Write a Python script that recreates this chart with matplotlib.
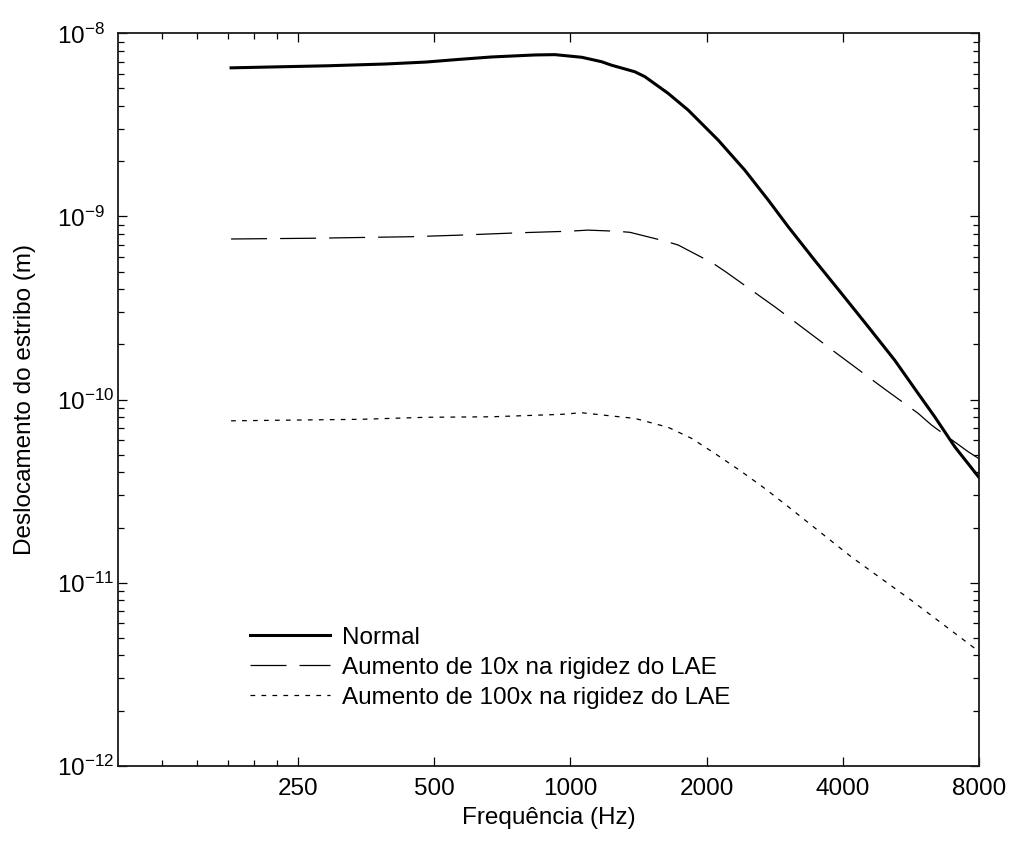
import matplotlib
matplotlib.use('Agg')
import matplotlib.pyplot as plt
from matplotlib.ticker import FixedLocator, NullFormatter, LogLocator, LogFormatterSciNotation, FixedFormatter

FAM = ['Liberation Sans', 'DejaVu Sans']
plt.rcParams['font.family'] = FAM
plt.rcParams['mathtext.fontset'] = 'custom'
plt.rcParams['mathtext.rm'] = 'Liberation Sans'
plt.rcParams['mathtext.it'] = 'Liberation Sans:italic'
plt.rcParams['mathtext.bf'] = 'Liberation Sans:bold'
plt.rcParams['lines.scale_dashes'] = False

# ---- data ----
freq_normal = [178, 290, 390, 480, 565, 670, 835, 925, 1060, 1172, 1233, 1388, 1461,
               1645, 1821, 2122, 2429, 2736, 3029, 3468, 3972, 4550, 5208, 5866,
               6384, 7070, 8000]
disp_normal = [6.48e-9, 6.65e-9, 6.8e-9, 6.97e-9, 7.2e-9, 7.43e-9, 7.62e-9, 7.65e-9,
               7.4e-9, 7.0e-9, 6.7e-9, 6.17e-9, 5.8e-9, 4.7e-9, 3.81e-9, 2.61e-9,
               1.79e-9, 1.23e-9, 8.79e-10, 5.75e-10, 3.8e-10, 2.5e-10, 1.64e-10,
               1.08e-10, 8.05e-11, 5.52e-11, 3.75e-11]

freq_10x = [178, 268, 446, 566, 780, 990, 1094, 1265, 1354, 1617, 1731, 2069, 2213,
            2830, 3029, 3620, 3872, 4627, 4950, 5866, 6277, 7566, 8000]
disp_10x = [7.53e-10, 7.6e-10, 7.75e-10, 7.9e-10, 8.15e-10, 8.3e-10, 8.42e-10,
            8.3e-10, 8.19e-10, 7.34e-10, 6.98e-10, 5.54e-10, 4.95e-10, 3.21e-10,
            2.83e-10, 2.03e-10, 1.79e-10, 1.29e-10, 1.14e-10, 8.41e-11, 7.26e-11,
            5.19e-11, 4.75e-11]

freq_100x = [178, 346, 481, 670, 956, 1059, 1183, 1388, 1645, 1852, 2085, 2389, 2689,
             3029, 3230, 4180, 5670, 8000]
disp_100x = [7.65e-11, 7.8e-11, 8.0e-11, 8.05e-11, 8.3e-11, 8.47e-11, 8.22e-11,
             7.89e-11, 7.05e-11, 6.14e-11, 5.08e-11, 4.04e-11, 3.27e-11, 2.6e-11,
             2.29e-11, 1.38e-11, 8.0e-12, 4.2e-12]

series_labels = ['Normal', 'Aumento de 10x na rigidez do LAE',
                 'Aumento de 100x na rigidez do LAE']

x_ticks = [250, 500, 1000, 2000, 4000, 8000]
x_tick_labels = ['250', '500', '1000', '2000', '4000', '8000']
x_minor_ticks = [125, 150, 175, 200, 225]
y_ticks = [1e-12, 1e-11, 1e-10, 1e-9, 1e-8]

FS = 17.5

fig = plt.figure(figsize=(10.15, 8.42), dpi=100)
ax = fig.add_axes([0.1160, 0.0906, 0.8486, 0.8698])

ax.plot(freq_normal, disp_normal, color='black', lw=2.2, label=series_labels[0])
l2, = ax.plot(freq_10x, disp_10x, color='black', lw=0.9, label=series_labels[1])
l2.set_dashes([25.9, 9.4])
l3, = ax.plot(freq_100x, disp_100x, color='black', lw=0.9, label=series_labels[2])
l3.set_dashes([3.4, 4.5])

ax.set_xscale('log')
ax.set_yscale('log')
ax.set_xlim(100, 8000)
ax.set_ylim(1e-12, 1e-8)

ax.xaxis.set_major_locator(FixedLocator(x_ticks))
ax.xaxis.set_major_formatter(FixedFormatter(x_tick_labels))
ax.xaxis.set_minor_locator(FixedLocator(x_minor_ticks))
ax.xaxis.set_minor_formatter(NullFormatter())

ax.yaxis.set_major_locator(FixedLocator(y_ticks))
ax.yaxis.set_major_formatter(LogFormatterSciNotation())
ax.yaxis.set_minor_locator(LogLocator(base=10, subs=range(2, 10), numticks=20))
ax.yaxis.set_minor_formatter(NullFormatter())

ax.tick_params(which='both', direction='in', top=True, right=True, width=0.9,
               labelsize=FS, color='black')
ax.tick_params(which='major', length=6.8)
ax.tick_params(which='minor', length=4)
ax.tick_params(axis='x', which='major', pad=8.5)
ax.tick_params(axis='y', which='major', pad=43.7)
for lbl in ax.get_yticklabels():
    lbl.set_horizontalalignment('left')

for sp in ax.spines.values():
    sp.set_linewidth(1.3)
    sp.set_color('#1a1a1a')

ax.set_xlabel('Frequência (Hz)', fontsize=FS, labelpad=5.5)
ax.set_ylabel('Deslocamento do estribo (m)', fontsize=FS, labelpad=15)

leg = ax.legend(loc='lower left', bbox_to_anchor=(0.1536, 0.078), frameon=False,
                fontsize=FS, handlelength=3.3, handletextpad=0.5,
                labelspacing=0.32, borderaxespad=0, borderpad=0)

fig.savefig('out.png', dpi=100)
